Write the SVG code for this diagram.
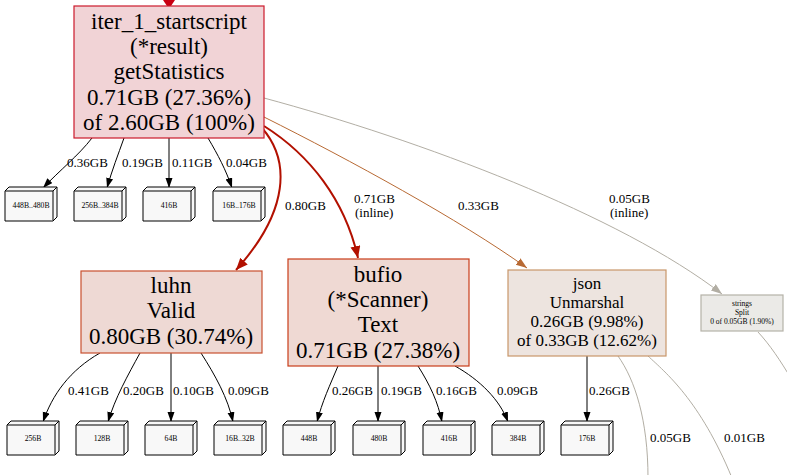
<svg xmlns="http://www.w3.org/2000/svg" width="787" height="475" viewBox="0 0 787 475">
<style>
text{font-family:"Liberation Serif","Times New Roman",serif;fill:#000;text-anchor:middle}
.big{font-size:23px}
.mid{font-size:17px}
.lbl{font-size:13px;text-anchor:start}
.tiny{font-size:7.7px}
.stiny{font-size:7.5px}
.e{fill:none;stroke:#000;stroke-width:1}
.ered{fill:none;stroke:#b21000;stroke-width:2}
.ebrown{fill:none;stroke:#b86a34;stroke-width:1}
.egray{fill:none;stroke:#b2aea4;stroke-width:1}
.bx{fill:#f8f8f8;stroke:#000;stroke-width:1;stroke-linejoin:miter}
</style>
<defs>
<marker id="aBlack" markerUnits="userSpaceOnUse" markerWidth="10" markerHeight="8" refX="10" refY="3.5" orient="auto"><path d="M0,0 L10,3.5 L0,7 z" fill="#000"/></marker>
<marker id="aRed" markerUnits="userSpaceOnUse" markerWidth="13" markerHeight="11" refX="12" refY="5" orient="auto"><path d="M0,0 L12,5 L0,10 z" fill="#b21000"/></marker>
<marker id="aBrown" markerUnits="userSpaceOnUse" markerWidth="11" markerHeight="9" refX="11" refY="4" orient="auto"><path d="M0,0 L11,4 L0,8 z" fill="#b86a34"/></marker>
<marker id="aGray" markerUnits="userSpaceOnUse" markerWidth="11" markerHeight="9" refX="11" refY="4" orient="auto"><path d="M0,0 L11,4 L0,8 z" fill="#b2aea4"/></marker>
<g id="box3d">
<path class="bx" d="M0,4 L4,0 L52,0 L52,30 L48,34 L0,34 Z"/>
<path class="bx" d="M0,4 L48,4 L48,34 M48,4 L52,0" fill="none"/>
</g>
</defs>

<g id="connectors">
<polygon points="163,0 175,0 169,9" fill="#c80012"/>
<path class="e" d="M92,138 C78,156 60,170 43,188" marker-end="url(#aBlack)"/>
<path class="e" d="M124,138 C118,155 112,170 107,188" marker-end="url(#aBlack)"/>
<path class="e" d="M169,138 L169,188" marker-end="url(#aBlack)"/>
<path class="e" d="M208,138 C218,155 226,170 232,188" marker-end="url(#aBlack)"/>
<path class="ered" d="M262,128 C290,160 290,210 236,270" marker-end="url(#aRed)"/>
<path class="ered" d="M264,126 C310,155 345,200 358,258" marker-end="url(#aRed)"/>
<path class="ebrown" d="M264,117 C350,160 460,220 527,268" marker-end="url(#aBrown)"/>
<path class="egray" d="M264,98 C420,140 620,215 722,294" marker-end="url(#aGray)"/>
<path class="egray" d="M758,332 C770,345 780,360 792,380"/>
<path class="e" d="M100,353 C70,370 52,395 43,422" marker-end="url(#aBlack)"/>
<path class="e" d="M140,353 C128,375 115,398 108,422" marker-end="url(#aBlack)"/>
<path class="e" d="M171,353 L171,422" marker-end="url(#aBlack)"/>
<path class="e" d="M201,353 C215,375 228,398 233,422" marker-end="url(#aBlack)"/>
<path class="e" d="M338,366 C330,385 322,402 317,422" marker-end="url(#aBlack)"/>
<path class="e" d="M378,366 L378,422" marker-end="url(#aBlack)"/>
<path class="e" d="M418,366 C430,385 438,402 442,422" marker-end="url(#aBlack)"/>
<path class="e" d="M455,366 C480,380 500,400 508,422" marker-end="url(#aBlack)"/>
<path class="e" d="M587,356 L587,422" stroke-width="1.5" marker-end="url(#aBlack)"/>
<path class="egray" d="M618,356 C635,380 648,420 648,478"/>
<path class="egray" d="M648,356 C665,372 700,400 732,478"/>
<text class="lbl" x="67" y="167">0.36GB</text>
<text class="lbl" x="122" y="167">0.19GB</text>
<text class="lbl" x="172" y="167">0.11GB</text>
<text class="lbl" x="226" y="167">0.04GB</text>
<text class="lbl" x="285" y="210">0.80GB</text>
<text class="lbl" x="354" y="203">0.71GB</text>
<text class="lbl" x="355" y="217">(inline)</text>
<text class="lbl" x="458" y="210">0.33GB</text>
<text class="lbl" x="609" y="203">0.05GB</text>
<text class="lbl" x="610" y="217">(inline)</text>
<text class="lbl" x="68" y="395">0.41GB</text>
<text class="lbl" x="123" y="395">0.20GB</text>
<text class="lbl" x="173" y="395">0.10GB</text>
<text class="lbl" x="228" y="395">0.09GB</text>
<text class="lbl" x="332" y="395">0.26GB</text>
<text class="lbl" x="381" y="395">0.19GB</text>
<text class="lbl" x="436" y="395">0.16GB</text>
<text class="lbl" x="497" y="395">0.09GB</text>
<text class="lbl" x="589" y="395">0.26GB</text>
<text class="lbl" x="650" y="442">0.05GB</text>
<text class="lbl" x="724" y="442">0.01GB</text>
</g>

<g id="n_getStatistics">
<rect x="74" y="6" width="190" height="132" fill="#f1d3d6" stroke="#cc1a2b" stroke-width="1.2"/>
<text class="big" x="169" y="29">iter_1_startscript</text>
<text class="big" x="169" y="54">(*result)</text>
<text class="big" x="169" y="79">getStatistics</text>
<text class="big" x="169" y="105">0.71GB (27.36%)</text>
<text class="big" x="169" y="130">of 2.60GB (100%)</text>
</g>

<g id="n_luhn">
<rect x="81" y="271" width="181" height="82" fill="#eed9d4" stroke="#c8502f" stroke-width="1.2"/>
<text class="big" x="171" y="293">luhn</text>
<text class="big" x="171" y="318">Valid</text>
<text class="big" x="171" y="344">0.80GB (30.74%)</text>
</g>

<g id="n_bufio">
<rect x="288" y="259" width="181" height="107" fill="#efd9d3" stroke="#c83d1a" stroke-width="1.2"/>
<text class="big" x="378" y="282">bufio</text>
<text class="big" x="378" y="307">(*Scanner)</text>
<text class="big" x="378" y="332">Text</text>
<text class="big" x="378" y="358">0.71GB (27.38%)</text>
</g>

<g id="n_json">
<rect x="508" y="270" width="158" height="86" fill="#ede4df" stroke="#c8976a" stroke-width="1.2"/>
<text class="mid" x="587" y="289">json</text>
<text class="mid" x="587" y="308">Unmarshal</text>
<text class="mid" x="587" y="327">0.26GB (9.98%)</text>
<text class="mid" x="587" y="346">of 0.33GB (12.62%)</text>
</g>

<g id="n_strings">
<rect x="701" y="295" width="82" height="36" fill="#ebeae7" stroke="#b5b2a8" stroke-width="1.2"/>
<text class="stiny" x="742" y="306">strings</text>
<text class="stiny" x="742" y="314.5">Split</text>
<text class="stiny" x="742" y="324">0 of 0.05GB (1.90%)</text>
</g>

<g id="b1"><use href="#box3d" x="5" y="187"/><text class="tiny" x="31" y="208">448B..480B</text></g>
<g id="b2"><use href="#box3d" x="74" y="187"/><text class="tiny" x="100" y="208">256B..384B</text></g>
<g id="b3"><use href="#box3d" x="143" y="187"/><text class="tiny" x="169" y="208">416B</text></g>
<g id="b4"><use href="#box3d" x="213" y="187"/><text class="tiny" x="239" y="208">16B..176B</text></g>

<g id="b5"><use href="#box3d" x="7" y="421"/><text class="tiny" x="33" y="441">256B</text></g>
<g id="b6"><use href="#box3d" x="76" y="421"/><text class="tiny" x="102" y="441">128B</text></g>
<g id="b7"><use href="#box3d" x="145" y="421"/><text class="tiny" x="171" y="441">64B</text></g>
<g id="b8"><use href="#box3d" x="214" y="421"/><text class="tiny" x="240" y="441">16B..32B</text></g>
<g id="b9"><use href="#box3d" x="283" y="421"/><text class="tiny" x="309" y="441">448B</text></g>
<g id="b10"><use href="#box3d" x="353" y="421"/><text class="tiny" x="379" y="441">480B</text></g>
<g id="b11"><use href="#box3d" x="423" y="421"/><text class="tiny" x="449" y="441">416B</text></g>
<g id="b12"><use href="#box3d" x="492" y="421"/><text class="tiny" x="518" y="441">384B</text></g>
<g id="b13"><use href="#box3d" x="561" y="421"/><text class="tiny" x="587" y="441">176B</text></g>
</svg>
